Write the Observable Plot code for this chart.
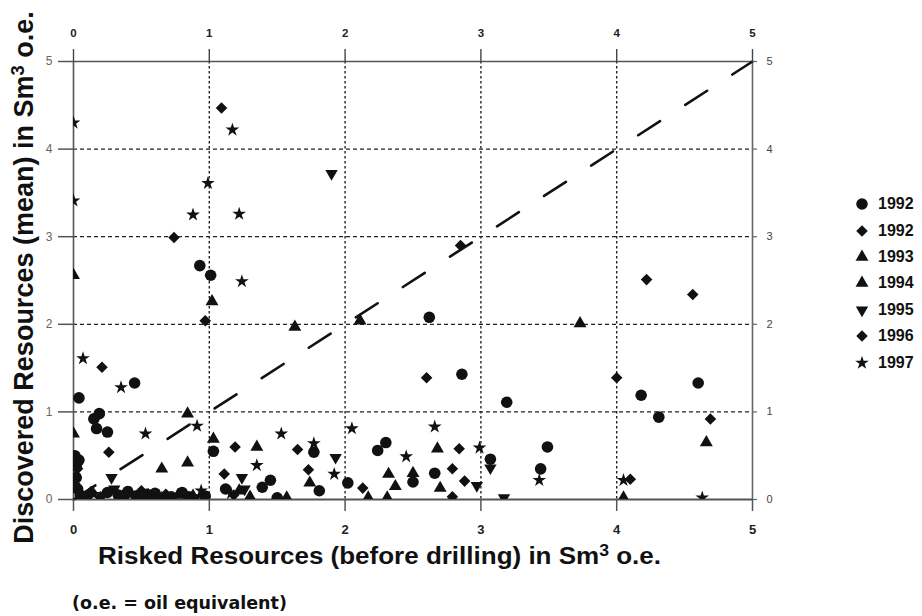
<!DOCTYPE html>
<html>
<head>
<meta charset="utf-8">
<script src="https://cdn.jsdelivr.net/npm/d3@7"></script>
<script src="https://cdn.jsdelivr.net/npm/@observablehq/plot@0.6"></script>
<style>
  body { margin: 0; background: #fff; }
  #wrap { position: relative; width: 922px; height: 616px; overflow: hidden;
          font-family: "Liberation Sans", Arial, sans-serif; color: #111; }
  #wrap svg.plot { position: absolute; left: 0; top: 0; }
  .ytitle { position: absolute; width: 620px; left: -286.5px; top: 264px; height: 27px;
            line-height: 27px; font-size: 27px; font-weight: bold; text-align: center;
            transform: rotate(-90deg); transform-origin: 50% 50%; white-space: nowrap; }
  .xtitle { position: absolute; left: 98px; top: 545px; line-height: 23px; font-size: 23px;
            font-weight: bold; white-space: nowrap; transform: scaleX(1.13); transform-origin: 0 50%; }
  .caption { position: absolute; left: 72px; top: 595px; line-height: 17.5px; font-size: 17.5px;
             font-weight: bold; font-family: "DejaVu Sans", Verdana, sans-serif; white-space: nowrap; }
  .sup { font-size: 0.68em; position: relative; top: -0.5em; }
  .legend { position: absolute; left: 853px; top: 191px; }
  .legend .row { display: flex; align-items: center; height: 26.4px; font-size: 16px; font-weight: bold; }
  .legend svg { width: 18px; height: 18px; margin-right: 7px; }
</style>
</head>
<body>
<div id="wrap"></div>
<script>
// Axis set-up (million Sm3 o.e. on both axes)
const xDomain = [0, 5];
const yDomain = [0, 5];
const xTicks = [0, 1, 2, 3, 4, 5];
const yTicks = [0, 1, 2, 3, 4, 5];
const gridValues = [1, 2, 3, 4];

// Prospects by year: [risked resources before drilling, discovered resources (mean)]
const circles1992 = [
  [0.04, 1.16], [0.45, 1.33], [0.93, 2.67], [1.01, 2.56], [2.62, 2.08], [2.86, 1.43],
  [3.19, 1.11], [4.18, 1.19], [4.60, 1.33], [4.31, 0.94], [0.19, 0.98], [0.15, 0.92],
  [0.17, 0.81], [0.25, 0.77], [1.03, 0.55], [1.77, 0.54], [2.24, 0.56], [2.30, 0.65],
  [2.02, 0.19], [2.50, 0.20], [2.66, 0.30], [3.07, 0.46], [3.49, 0.60], [3.44, 0.35],
  [1.39, 0.14], [1.45, 0.22], [1.12, 0.12], [1.81, 0.10], [0.04, 0.45], [0.02, 0.25],
  [0.03, 0.12], [0.05, 0.05], [0.25, 0.08], [0.33, 0.05], [0.46, 0.04], [0.60, 0.07],
  [0.72, 0.03], [0.85, 0.03], [1.50, 0.02], [0.09, 0.03], [0.40, 0.09], [0.54, 0.06],
  [0.80, 0.08], [0.01, 0.50], [0.02, 0.38], [0.97, 0.04]
];
const diamonds1992 = [
  [1.09, 4.47], [0.21, 1.51], [2.60, 1.39], [4.00, 1.39], [1.65, 0.57], [2.13, 0.13],
  [2.84, 0.58], [0.26, 0.54], [1.11, 0.29], [0.03, 0.35], [0.38, 0.03], [0.68, 0.06],
  [2.79, 0.03]
];
const triangles1993 = [
  [0.00, 2.56], [1.02, 2.26], [2.11, 2.04], [4.66, 0.65], [0.84, 0.98], [0.65, 0.35],
  [1.35, 0.60], [2.32, 0.29], [2.68, 0.58], [1.22, 0.10], [0.10, 0.02], [0.55, 0.05],
  [0.77, 0.05], [2.31, 0.02]
];
const triangles1994 = [
  [1.63, 1.97], [3.73, 2.01], [4.05, 0.02], [0.00, 0.75], [0.84, 0.42], [1.03, 0.69],
  [1.74, 0.19], [2.17, 0.02], [2.37, 0.15], [2.50, 0.30], [2.70, 0.13], [1.57, 0.02],
  [0.42, 0.07], [0.63, 0.03], [0.36, 0.03], [0.48, 0.02], [0.88, 0.04], [1.30, 0.03]
];
const trianglesDown1995 = [
  [1.90, 3.72], [1.93, 0.48], [0.28, 0.25], [1.24, 0.25], [2.97, 0.16], [3.07, 0.36],
  [3.17, 0.02], [0.30, 0.12], [1.26, 0.12], [0.90, 0.02]
];
const diamonds1996 = [
  [0.74, 2.99], [0.97, 2.04], [2.85, 2.90], [4.22, 2.51], [4.56, 2.34], [4.69, 0.92],
  [4.10, 0.23], [1.73, 0.34], [2.79, 0.35], [2.88, 0.21], [1.19, 0.60], [1.18, 0.05],
  [0.20, 0.03], [0.50, 0.10], [0.13, 0.09], [0.58, 0.02], [0.01, 0.18]
];
const stars1997 = [
  [0.00, 4.30], [0.00, 3.41], [1.17, 4.22], [0.99, 3.61], [0.88, 3.25], [1.22, 3.26],
  [1.24, 2.49], [0.07, 1.61], [0.35, 1.28], [0.53, 0.75], [0.91, 0.84], [1.53, 0.75],
  [1.77, 0.64], [1.92, 0.29], [2.05, 0.81], [2.45, 0.49], [2.66, 0.83], [2.99, 0.59],
  [3.43, 0.22], [4.05, 0.22], [4.63, 0.02], [1.35, 0.39], [1.16, 0.07], [0.94, 0.10],
  [0.15, 0.06], [0.65, 0.02]
];

const legendLabels = ["1992", "1992", "1993", "1994", "1995", "1996", "1997"];

// Downward-pointing triangle (mirror of d3.symbolTriangle)
const symbolTriangleDown = {
  draw(context, size) {
    const y = -Math.sqrt(size / (Math.sqrt(3) * 3));
    context.moveTo(0, -y * 2);
    context.lineTo(-Math.sqrt(3) * y, y);
    context.lineTo(Math.sqrt(3) * y, y);
    context.closePath();
  }
};

const series = [
  {points: circles1992, symbol: d3.symbolCircle, r: 5.8},
  {points: diamonds1992, symbol: d3.symbolDiamond2, r: 5.2},
  {points: triangles1993, symbol: d3.symbolTriangle, r: 4.8},
  {points: triangles1994, symbol: d3.symbolTriangle, r: 4.8},
  {points: trianglesDown1995, symbol: symbolTriangleDown, r: 4.6},
  {points: diamonds1996, symbol: d3.symbolDiamond2, r: 5.2},
  {points: stars1997, symbol: d3.symbolStar, r: 4.3}
].map((s, i) => ({...s, label: legendLabels[i]}));

// 1:1 line across the full domain
const parityLine = xDomain.map(v => ({x: v, y: v}));

const ink = "#111";
const intLabel = d => String(d);

const chart = Plot.plot({
  width: 922,
  height: 616,
  marginLeft: 73,
  marginRight: 170,
  marginTop: 61,
  marginBottom: 117,
  x: {domain: xDomain},
  y: {domain: yDomain},
  style: {background: "transparent", fontFamily: "'Liberation Sans', Arial, sans-serif", overflow: "visible"},
  marks: [
    Plot.ruleX(gridValues, {stroke: "#222", strokeWidth: 1.4, strokeDasharray: "2.5,2.5"}),
    Plot.ruleY(gridValues, {stroke: "#222", strokeWidth: 1.3, strokeDasharray: "4,3"}),
    Plot.ruleX([xDomain[0]], {stroke: "#555", strokeWidth: 1.6}),
    Plot.ruleX([xDomain[1]], {stroke: "#666", strokeWidth: 1.6}),
    Plot.ruleY([yDomain[0]], {stroke: "#555", strokeWidth: 2}),
    Plot.ruleY([yDomain[1]], {stroke: "#555", strokeWidth: 1.6}),
    Plot.line(parityLine, {x: "x", y: "y", stroke: ink, strokeWidth: 2.6, strokeDasharray: "26,30"}),
    ...series.map(s => Plot.dot(s.points, {
      x: d => d[0], y: d => d[1], symbol: s.symbol, r: s.r,
      fill: ink, stroke: "none", clip: true
    })),
    Plot.axisX({anchor: "bottom", ticks: xTicks, tickFormat: intLabel, tickSize: 12, tickPadding: 13,
      label: null, fontSize: 13, fontWeight: "bold", stroke: "#555", strokeWidth: 1.5, fill: "#222"}),
    Plot.axisX({anchor: "top", ticks: xTicks, tickFormat: intLabel, tickSize: 13, tickPadding: 12,
      label: null, fontSize: 11.5, fontWeight: "bold", stroke: "#444", strokeWidth: 1.4, fill: "#222"}),
    Plot.axisY({anchor: "left", ticks: yTicks, tickFormat: intLabel, tickSize: 15, tickPadding: 6,
      label: null, fontSize: 12, stroke: "#555", strokeWidth: 1.5, fill: "#666"}),
    Plot.axisY({anchor: "right", ticks: yTicks, tickFormat: intLabel, tickSize: 4, tickPadding: 10,
      label: null, fontSize: 11, stroke: "#666", strokeWidth: 1.2, fill: "#444"})
  ]
});
chart.classList.add("plot");

const wrap = document.getElementById("wrap");
wrap.appendChild(chart);

const yTitle = document.createElement("div");
yTitle.className = "ytitle";
yTitle.innerHTML = 'Discovered Resources (mean) in Sm<span class="sup">3</span> o.e.';
wrap.appendChild(yTitle);

const xTitle = document.createElement("div");
xTitle.className = "xtitle";
xTitle.innerHTML = 'Risked Resources (before drilling) in Sm<span class="sup">3</span> o.e.';
wrap.appendChild(xTitle);

const caption = document.createElement("div");
caption.className = "caption";
caption.textContent = "(o.e. = oil equivalent)";
wrap.appendChild(caption);

// Vertical symbol key
const legend = d3.select(wrap).append("div").attr("class", "legend");
const rows = legend.selectAll("div.row").data(series).join("div").attr("class", "row");
rows.append("svg").attr("viewBox", "-9 -9 18 18")
  .append("path")
  .attr("fill", ink)
  .attr("d", s => d3.symbol(s.symbol, Math.PI * s.r * s.r)());
rows.append("span").text(s => s.label);
</script>
</body>
</html>
